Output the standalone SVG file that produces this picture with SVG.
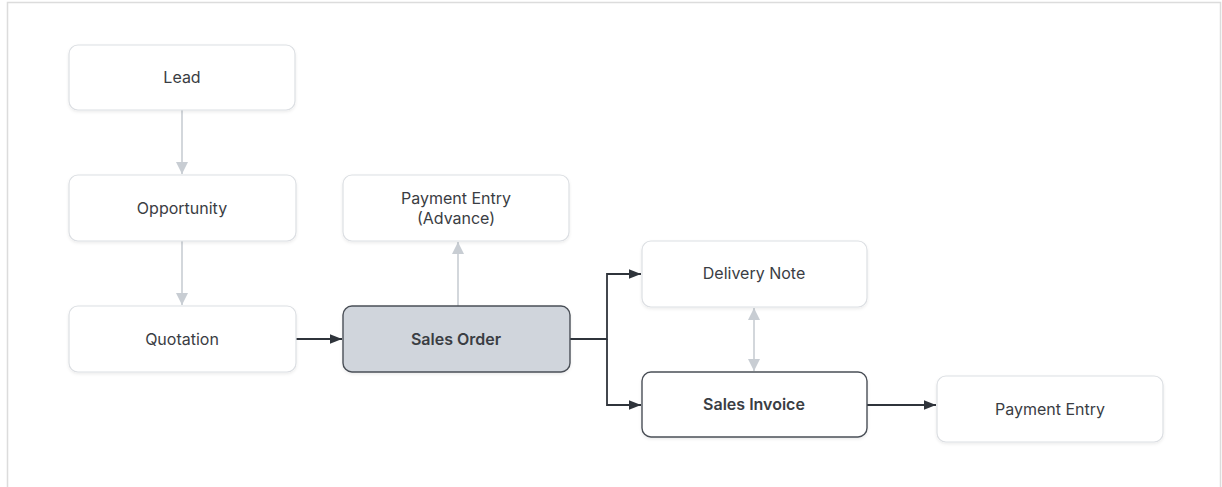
<svg xmlns="http://www.w3.org/2000/svg" width="1222" height="487" viewBox="0 0 1222 487">
<style>
.node rect{fill:#ffffff;stroke:#dcdfe3;stroke-width:1.2}
.node text{font-family:Inter,"Liberation Sans",sans-serif;font-size:16px;font-weight:400;fill:#3a3d43;text-anchor:middle;dominant-baseline:central}
.hl rect{fill:#d0d5dc;stroke:#4a4f57;stroke-width:1.4}
.dk rect{stroke:#4a4f57;stroke-width:1.4}
.bold text{font-weight:600}
.light{fill:none;stroke:#c8cdd3;stroke-width:1.6}
.dark{fill:none;stroke:#2f343b;stroke-width:1.8}
</style>
<defs>
<filter id="sh" x="-10%" y="-20%" width="120%" height="150%">
<feDropShadow dx="0" dy="1.5" stdDeviation="1.5" flood-color="#000" flood-opacity="0.08"/>
</filter>
<marker id="al" markerWidth="12" markerHeight="12" refX="10" refY="5" orient="auto-start-reverse" markerUnits="userSpaceOnUse" viewBox="0 0 10 10">
<path d="M0,0 L10,5 L0,10 z" fill="#c8cdd3"/>
</marker>
<marker id="ad" markerWidth="15" markerHeight="12" refX="10" refY="5" orient="auto" markerUnits="userSpaceOnUse" viewBox="0 0 10 10">
<path d="M0,1 L10,5 L0,9 z" fill="#2f343b"/>
</marker>
</defs>
<rect x="7.5" y="2.5" width="1213" height="490" fill="#ffffff" stroke="#dcdcdc" stroke-width="1.5"/>
<g id="connectors">
<path class="light" d="M182,110 V174" marker-end="url(#al)"/>
<path class="light" d="M182,241 V305" marker-end="url(#al)"/>
<path class="light" d="M458,306 V242" marker-end="url(#al)"/>
<path class="light" d="M754,308 V371" marker-start="url(#al)" marker-end="url(#al)"/>
<path class="dark" d="M296,339 H342" marker-end="url(#ad)"/>
<path class="dark" d="M570,339 H607 V274 H641" marker-end="url(#ad)"/>
<path class="dark" d="M607,339 V405 H641" marker-end="url(#ad)"/>
<path class="dark" d="M867,405 H936" marker-end="url(#ad)"/>
</g>
<g id="lead" class="node"><rect x="69" y="45" width="226" height="65" rx="9" filter="url(#sh)"/><text x="182" y="77">Lead</text></g>
<g id="opportunity" class="node"><rect x="69" y="175" width="227" height="66" rx="9" filter="url(#sh)"/><text x="182" y="208">Opportunity</text></g>
<g id="quotation" class="node"><rect x="69" y="306" width="227" height="66" rx="9" filter="url(#sh)"/><text x="182" y="339">Quotation</text></g>
<g id="payment-advance" class="node"><rect x="343" y="175" width="226" height="66" rx="9" filter="url(#sh)"/><text x="456" y="198">Payment Entry</text><text x="456" y="218">(Advance)</text></g>
<g id="sales-order" class="node hl bold"><rect x="343" y="306" width="227" height="66" rx="9" filter="url(#sh)"/><text x="456" y="339">Sales Order</text></g>
<g id="delivery-note" class="node"><rect x="642" y="241" width="225" height="66" rx="9" filter="url(#sh)"/><text x="754" y="273">Delivery Note</text></g>
<g id="sales-invoice" class="node dk bold"><rect x="642" y="372" width="225" height="65" rx="9" filter="url(#sh)"/><text x="754" y="404">Sales Invoice</text></g>
<g id="payment-entry" class="node"><rect x="937" y="376" width="226" height="66" rx="9" filter="url(#sh)"/><text x="1050" y="409">Payment Entry</text></g>
</svg>
